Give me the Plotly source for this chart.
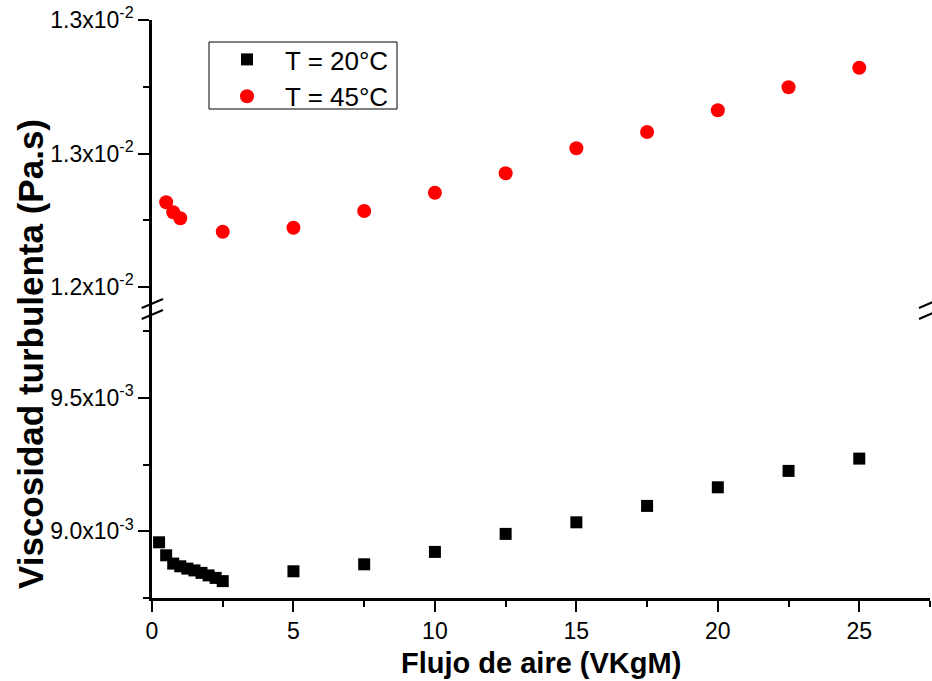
import plotly.graph_objects as go

# Data
x20 = [0.25, 0.5, 0.75, 1.0, 1.25, 1.5, 1.75, 2.0, 2.25, 2.5, 5, 7.5, 10, 12.5, 15, 17.5, 20, 22.5, 25]
y20 = [8.9588e-3, 8.9100e-3, 8.8789e-3, 8.8688e-3, 8.8602e-3, 8.8534e-3, 8.8441e-3, 8.8347e-3,
       8.8253e-3, 8.8133e-3, 8.8501e-3, 8.8763e-3, 8.9228e-3, 8.9903e-3, 9.0337e-3, 9.0952e-3,
       9.1649e-3, 9.2264e-3, 9.2725e-3]
x45 = [0.5, 0.75, 1.0, 2.5, 5, 7.5, 10, 12.5, 15, 17.5, 20, 22.5, 25]
y45 = [1.23172e-2, 1.22798e-2, 1.22573e-2, 1.22071e-2, 1.22221e-2, 1.22846e-2, 1.23532e-2,
       1.24258e-2, 1.25195e-2, 1.25805e-2, 1.26618e-2, 1.27479e-2, 1.28213e-2]

x_ticks = [0, 5, 10, 15, 20, 25]
x_minor = [2.5, 7.5, 12.5, 17.5, 22.5, 27.5]
low_ticks = [9.0e-3, 9.5e-3]
low_text = ["9.0x10<sup>-3</sup>", "9.5x10<sup>-3</sup>"]
low_minor = [8.75e-3, 9.25e-3, 9.75e-3]
up_ticks = [1.2e-2, 1.25e-2, 1.3e-2]
up_text = ["1.2x10<sup>-2</sup>", "1.3x10<sup>-2</sup>", "1.3x10<sup>-2</sup>"]
up_minor = [1.225e-2, 1.275e-2]

FONT = "Arial, Liberation Sans, sans-serif"
low_range = [8.75e-3, 9.8332e-3]
up_range = [1.19176e-2, 1.3e-2]
x_range = [0, 27.5]

fig = go.Figure()
fig.add_trace(go.Scatter(x=x20, y=y20, mode="markers", name="T = 20°C",
                         marker=dict(symbol="square", size=12, color="black"),
                         xaxis="x", yaxis="y", legendgroup="a"))
fig.add_trace(go.Scatter(x=x45, y=y45, mode="markers", name="T = 45°C",
                         marker=dict(symbol="circle", size=14, color="#ff0000"),
                         xaxis="x", yaxis="y2", legendgroup="b"))

common = dict(showline=True, linecolor="black", linewidth=2.5, showgrid=False, zeroline=False,
              tickcolor="black", tickwidth=2, ticklen=11,
              tickfont=dict(family=FONT, size=23, color="black"))

def minor(vals, side):
    return dict(tickvals=vals, ticks=side, ticklen=6, tickwidth=2, tickcolor="black", showgrid=False)

W, H = 778.0, 578.0
def px(xp):
    return (xp - 152) / W
def py(yp):
    return (598 - yp) / H

fig.update_layout(
    width=932, height=681,
    margin=dict(l=152, r=2, t=20, b=83),
    paper_bgcolor="white", plot_bgcolor="white",
    font=dict(family=FONT, color="black"),
    xaxis=dict(domain=[0, 1], range=x_range, anchor="y", ticks="outside",
               tickmode="array", tickvals=x_ticks, minor=minor(x_minor, "outside"), **common),
    xaxis2=dict(domain=[0, 1], range=x_range, anchor="y2", overlaying="x", side="top",
                ticks="inside", tickmode="array", tickvals=x_ticks, showticklabels=False,
                minor=minor(x_minor, "inside"), **common),
    yaxis=dict(domain=[0, 0.5], range=low_range, anchor="x", ticks="outside",
               tickmode="array", tickvals=low_ticks, ticktext=low_text,
               minor=minor(low_minor, "outside"), **common),
    yaxis2=dict(domain=[0.5, 1], range=up_range, anchor="x", ticks="outside",
                tickmode="array", tickvals=up_ticks, ticktext=up_text,
                minor=minor(up_minor, "outside"), **common),
    yaxis3=dict(range=low_range, anchor="x", overlaying="y", side="right", ticks="inside",
                tickmode="array", tickvals=low_ticks, showticklabels=False,
                minor=minor(low_minor, "inside"), **common),
    yaxis4=dict(range=up_range, anchor="x", overlaying="y2", side="right", ticks="inside",
                tickmode="array", tickvals=up_ticks, showticklabels=False,
                minor=minor(up_minor, "inside"), **common),
    showlegend=True,
    legend=dict(x=px(209), y=py(36), xanchor="left", yanchor="top",
                borderwidth=0, bgcolor="rgba(0,0,0,0)",
                font=dict(family=FONT, size=26, color="black"),
                traceorder="grouped", tracegroupgap=0, itemwidth=66),
)

# legend frame
fig.add_shape(type="rect", xref="paper", yref="paper",
              x0=px(209), y0=py(42), x1=px(397), y1=py(109),
              line=dict(color="black", width=1))

# axis titles
fig.add_annotation(text="<b>Flujo de aire (VKgM)</b>", xref="paper", yref="paper",
                   x=0.5, y=-0.1125, xanchor="center", yanchor="middle", showarrow=False,
                   font=dict(family=FONT, size=29, color="black"))
fig.add_annotation(text="<b>Viscosidad turbulenta (Pa.s)</b>", xref="paper", yref="paper",
                   x=px(30), y=py(354), xanchor="center", yanchor="middle", showarrow=False,
                   textangle=-90, font=dict(family=FONT, size=35, color="black"))

# axis break marks
for (x0, y0, x1, y1) in [(141.7, 308, 163, 299), (141.7, 319, 163, 310),
                         (919, 308, 940, 299), (919, 319, 940, 310)]:
    fig.add_shape(type="line", xref="paper", yref="paper",
                  x0=px(x0), y0=py(y0), x1=px(x1), y1=py(y1),
                  line=dict(color="black", width=2))

fig.write_html("out.html")
